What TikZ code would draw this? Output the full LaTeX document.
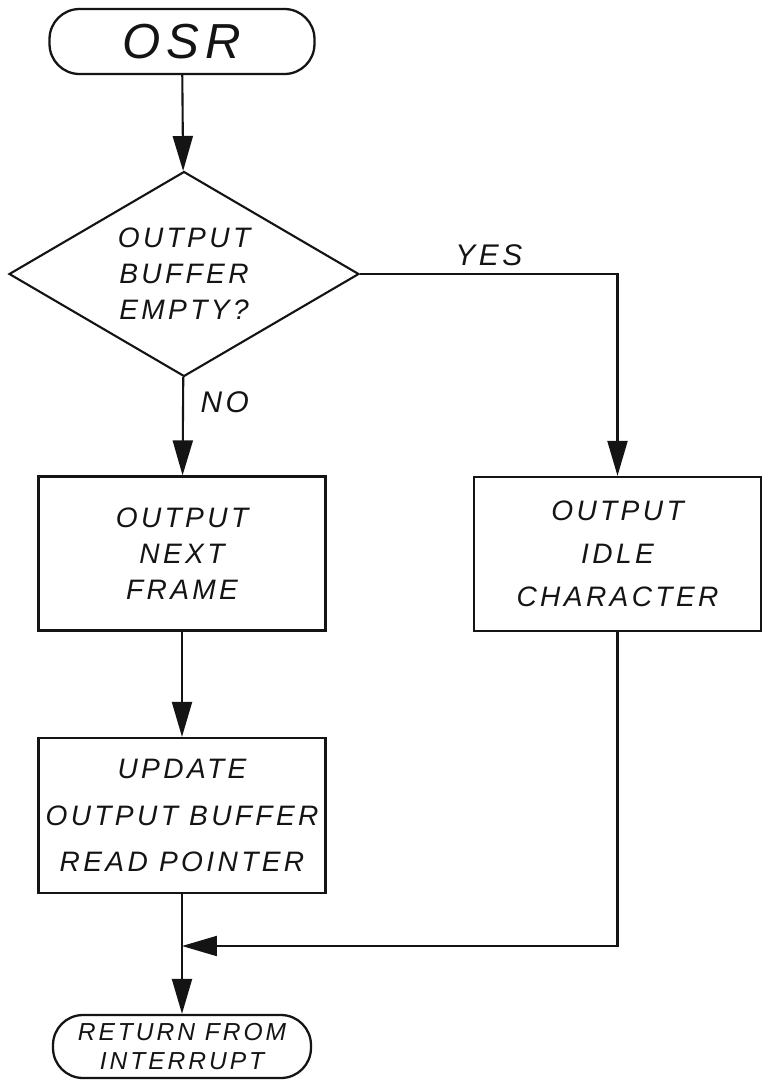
\documentclass[tikz,border=0pt]{standalone}
\usepackage{fontspec}
\newfontfamily\hand[LetterSpace=12]{Liberation Sans}
\usepackage{tikz}
\usetikzlibrary{arrows.meta,positioning,shapes.geometric}
\definecolor{ink}{RGB}{20,20,20}
\tikzset{
  term/.style={draw=ink,line width=1.3pt,rounded corners=0.6cm,inner sep=2pt,
    align=center,text=ink},
  decide/.style={draw=ink,diamond,aspect=1.7,inner sep=0pt,line width=1.2pt,
    minimum width=7cm,minimum height=4.1cm,align=center,text=ink,
    font=\hand\itshape\fontsize{16}{20.5}\selectfont},
  box/.style={draw=ink,line width=1.3pt,minimum width=5.74cm,minimum height=3.08cm,
    align=center,text=ink,font=\hand\itshape\fontsize{16}{20.5}\selectfont},
  arr/.style={-{Triangle[length=7mm,width=4mm]},line width=1.2pt,draw=ink},
  lbl/.style={font=\hand\itshape\fontsize{17}{19}\selectfont,text=ink},
}
\begin{document}
\begin{tikzpicture}[x=0.02cm,y=-0.02cm]
  \fill[white] (0,0) rectangle (771,1080);
  \useasboundingbox (0,0) rectangle (771,1080);
  % left column
  \node[term,minimum width=5.3cm,minimum height=1.3cm,
    font=\hand\itshape\fontsize{28}{30}\selectfont] (osr) at (182,41.5) {OSR};
  \node[decide] (empty) at (184,274) {OUTPUT\\BUFFER\\EMPTY?};
  \node[box] (nxt) at (182,553.5) {OUTPUT\\NEXT\\FRAME};
  \node[box,minimum height=3.1cm] (upd) at (182,815.5)
    {UPDATE\\[6pt]OUTPUT BUFFER\\[6pt]READ POINTER};
  \node[term,minimum width=5.16cm,minimum height=1.26cm,
    font=\hand\itshape\fontsize{14}{17}\selectfont] (ret) at (182,1046.5)
    {RETURN FROM\\INTERRUPT};
  % right column
  \node[box] (idle) at (617.5,554) {OUTPUT\\[4pt]IDLE\\[4pt]CHARACTER};
  \coordinate (join) at (182,946);
  % connectors
  \draw[arr] (osr) -- (empty);
  \draw[arr] (empty) -- node[lbl,pos=0.26,right=6pt] {NO} (nxt);
  \draw[arr] (empty) -| node[lbl,pos=0.25,above=1pt] {YES} (idle);
  \draw[arr] (nxt) -- (upd);
  \draw[arr] (idle) |- (join);
  \draw[arr] (upd) -- (ret);
\end{tikzpicture}
\end{document}
